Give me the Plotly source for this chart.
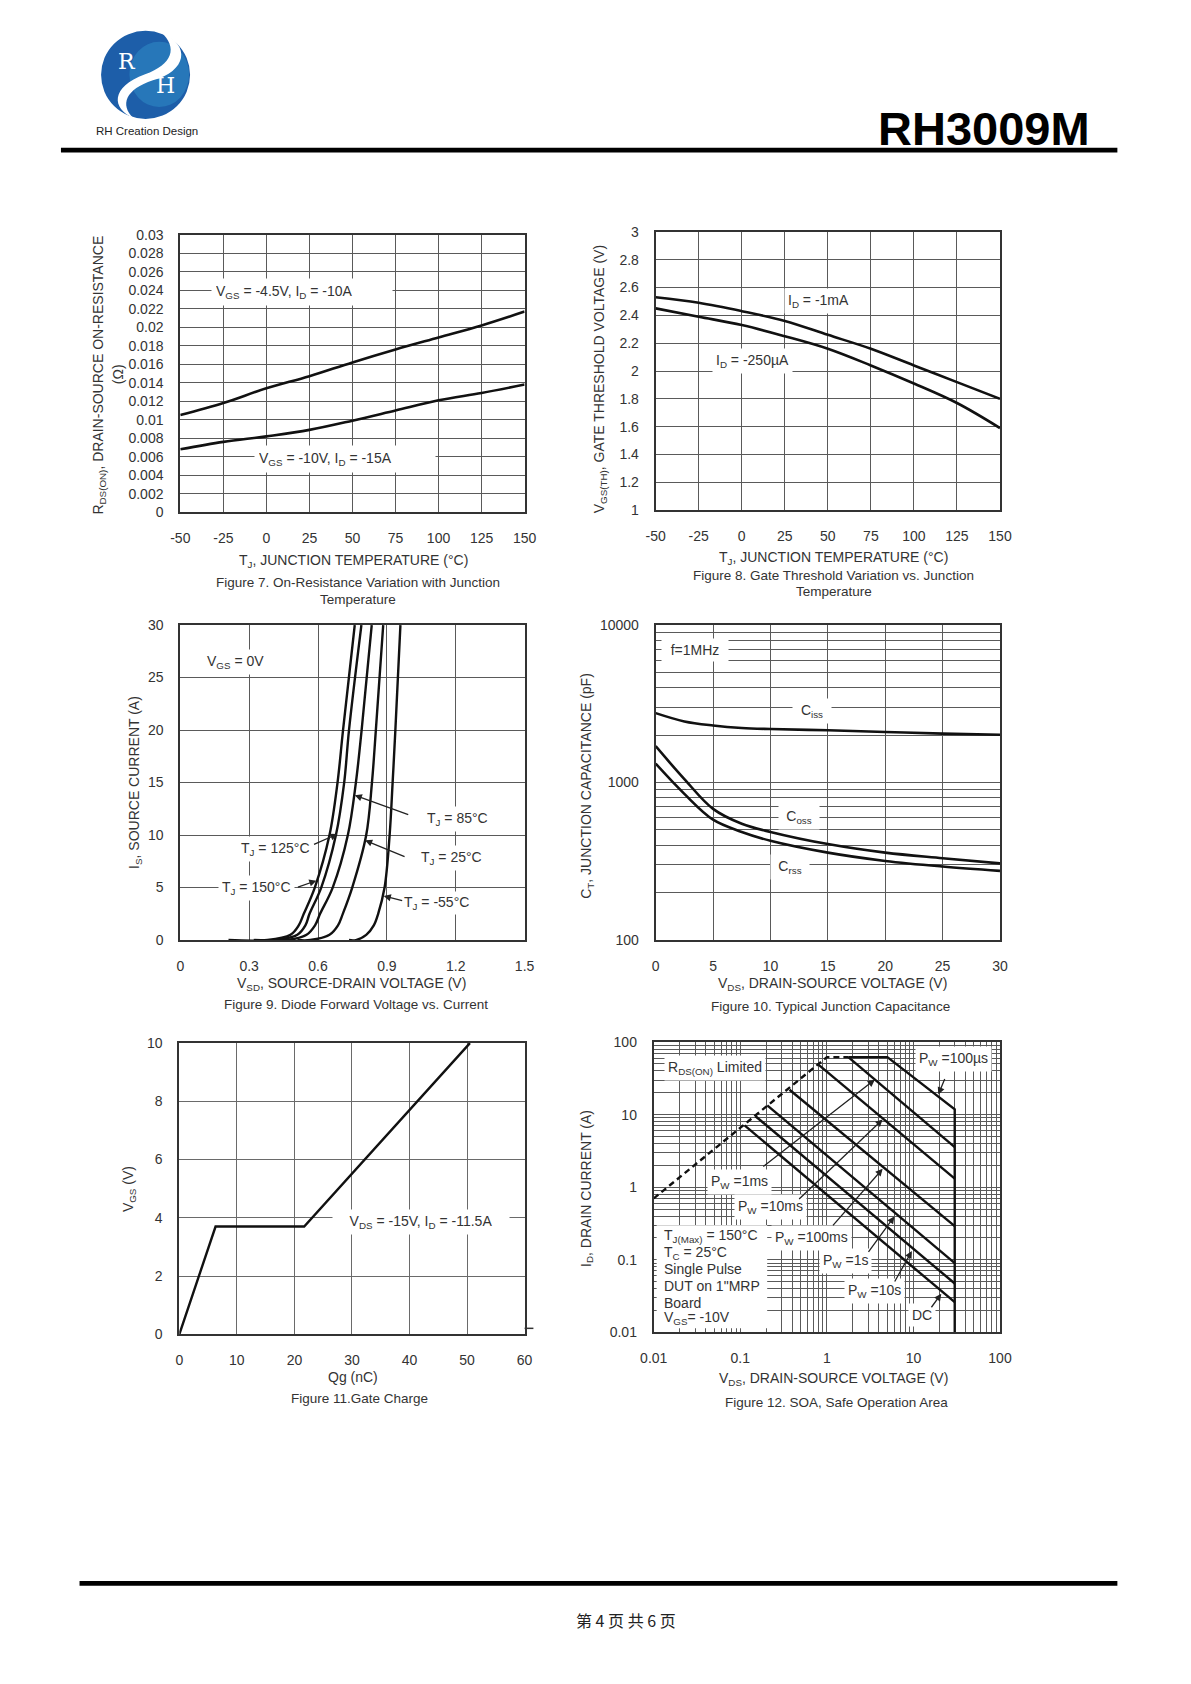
import math
import plotly.graph_objects as go

# ---------------- data ----------------
# Figure 7 : on-resistance vs junction temperature
temp_c = [-50, -25, 0, 25, 50, 75, 100, 125, 150]
rds_vgs45 = [0.0105, 0.0118, 0.0134, 0.0147, 0.0162, 0.0176, 0.0189, 0.0202, 0.0217]
rds_vgs10 = [0.0068, 0.0076, 0.0082, 0.0089, 0.0099, 0.0110, 0.0121, 0.0129, 0.0138]

# Figure 8 : gate threshold vs junction temperature
vth_1ma = [2.53, 2.49, 2.43, 2.36, 2.26, 2.16, 2.04, 1.92, 1.80]
vth_250ua = [2.45, 2.39, 2.33, 2.25, 2.16, 2.04, 1.91, 1.77, 1.59]

# Figure 9 : diode forward voltage vs current
is_amp = [0, 0, 0.5, 1.4, 2.5, 5, 10, 15, 20, 30]
vsd_150 = [0.21, 0.38, 0.48, 0.516, 0.538, 0.586, 0.650, 0.685, 0.709, 0.760]
vsd_125 = [0.32, 0.417, 0.51, 0.545, 0.563, 0.614, 0.678, 0.714, 0.735, 0.789]
vsd_85 = [0.41, 0.466, 0.55, 0.587, 0.609, 0.664, 0.730, 0.765, 0.790, 0.834]
vsd_25 = [0.51, 0.566, 0.65, 0.687, 0.708, 0.749, 0.810, 0.835, 0.852, 0.884]
vsd_m55 = [0.735, 0.765, 0.81, 0.843, 0.862, 0.890, 0.912, 0.925, 0.937, 0.959]

# Figure 10 : junction capacitance
vds_cap = [0, 2.5, 5, 7.5, 10, 15, 20, 25, 30]
ciss = [2760, 2445, 2305, 2222, 2188, 2148, 2096, 2046, 2010]
coss = [1703, 1052, 681, 548, 486, 407, 359, 331, 307]
crss = [1318, 847, 581, 486, 427, 359, 318, 293, 275]

# Figure 11 : gate charge
qg_nc = [0, 6.3, 21.7, 50.5]
vgs_v = [0, 3.7, 3.7, 10]

# Figure 12 : SOA
rds_lim_v = [0.01, 1.0, 1.77]
rds_lim_i = [0.7, 62, 62]
pw100us_v = [1.77, 5.0, 30, 30]
pw100us_i = [62, 62, 11.8, 0.01]
pw1ms_v = [1.77, 30]
pw1ms_i = [62, 3.57]
pw10ms_v = [0.78, 30]
pw10ms_i = [50, 1.31]
pw100ms_v = [0.37, 30]
pw100ms_i = [22, 0.29]
pw1s_v = [0.205, 30]
pw1s_i = [13.4, 0.090]
pw10s_v = [0.15, 30]
pw10s_i = [9.5, 0.047]
dc_v = [0.112, 30]
dc_i = [7.1, 0.026]

# tick labels
fig7_xticks = [-50, -25, 0, 25, 50, 75, 100, 125, 150]
fig7_xtext = ["-50", "-25", "0", "25", "50", "75", "100", "125", "150"]
fig7_yticks = [0, 0.002, 0.004, 0.006, 0.008, 0.01, 0.012, 0.014, 0.016, 0.018, 0.02, 0.022, 0.024, 0.026, 0.028, 0.03]
fig7_ytext = ["0", "0.002", "0.004", "0.006", "0.008", "0.01", "0.012", "0.014", "0.016", "0.018", "0.02", "0.022", "0.024", "0.026", "0.028", "0.03"]
fig8_yticks = [1, 1.2, 1.4, 1.6, 1.8, 2, 2.2, 2.4, 2.6, 2.8, 3]
fig8_ytext = ["1", "1.2", "1.4", "1.6", "1.8", "2", "2.2", "2.4", "2.6", "2.8", "3"]
fig9_xticks = [0, 0.3, 0.6, 0.9, 1.2, 1.5]
fig9_xtext = ["0", "0.3", "0.6", "0.9", "1.2", "1.5"]
fig9_yticks = [0, 5, 10, 15, 20, 25, 30]
fig10_xticks = [0, 5, 10, 15, 20, 25, 30]
fig10_ydecades = [100, 1000, 10000]
fig10_ytext = ["100", "1000", "10000"]
fig11_xticks = [0, 10, 20, 30, 40, 50, 60]
fig11_yticks = [0, 2, 4, 6, 8, 10]
fig12_decades = [0.01, 0.1, 1, 10, 100]
fig12_text = ["0.01", "0.1", "1", "10", "100"]

# ---------------- helpers ----------------
W, H = 1191, 1684
FONT = "Liberation Sans, Arial, sans-serif"
TXT = "#333333"
GRID = "#5a5a5a"
FRAME = "#333333"
CURVE = "#111111"


def fx(p):
    return p / W


def fy(p):
    return 1 - p / H


def log_minor(decades):
    vals = []
    for d in decades[:-1]:
        for m in range(2, 10):
            vals.append(d * m)
    return vals


fig = go.Figure()


def add_line(x, y, ax, width=2.6, dash=None, shape="linear"):
    fig.add_trace(go.Scatter(
        x=x, y=y, xaxis="x" + ax, yaxis="y" + ax, mode="lines",
        line=dict(color=CURVE, width=width, dash=dash, shape=shape),
        hoverinfo="skip", showlegend=False))


add_line(temp_c, rds_vgs45, "", shape="spline")
add_line(temp_c, rds_vgs10, "", shape="spline")
add_line(temp_c, vth_1ma, "2", shape="spline")
add_line(temp_c, vth_250ua, "2", shape="spline")
for v in [vsd_150, vsd_125, vsd_85, vsd_25, vsd_m55]:
    add_line(v, is_amp, "3", width=2.4, shape="spline")
add_line(vds_cap, ciss, "4", shape="spline")
add_line(vds_cap, coss, "4", shape="spline")
add_line(vds_cap, crss, "4", shape="spline")
add_line(qg_nc, vgs_v, "5", width=2.4)
add_line(rds_lim_v, rds_lim_i, "6", width=2.4, dash="6px,4px")
for vv, ii in [(pw100us_v, pw100us_i), (pw1ms_v, pw1ms_i), (pw10ms_v, pw10ms_i),
               (pw100ms_v, pw100ms_i), (pw1s_v, pw1s_i), (pw10s_v, pw10s_i), (dc_v, dc_i)]:
    add_line(vv, ii, "6", width=2.4)

tickfont = dict(family=FONT, size=14, color=TXT)


def xax(l, r, anchor, **kw):
    d = dict(domain=[fx(l), fx(r)], anchor=anchor, showline=True, mirror=True,
             linecolor=FRAME, linewidth=2, showgrid=True, gridcolor=GRID, gridwidth=1,
             zeroline=False, ticks="", tickfont=tickfont, ticklabelstandoff=12,
             fixedrange=True, tickmode="array")
    d.update(kw)
    return d


def yax(t, b, anchor, **kw):
    d = dict(domain=[fy(b), fy(t)], anchor=anchor, showline=True, mirror=True,
             linecolor=FRAME, linewidth=2, showgrid=True, gridcolor=GRID, gridwidth=1,
             zeroline=False, ticks="", tickfont=tickfont, ticklabelstandoff=12,
             fixedrange=True, tickmode="array")
    d.update(kw)
    return d


minor10 = dict(tickmode="array", tickvals=log_minor(fig10_ydecades), showgrid=True,
               gridcolor=GRID, gridwidth=1, ticks="")
minor12 = dict(tickmode="array", tickvals=log_minor(fig12_decades), showgrid=True,
               gridcolor=GRID, gridwidth=1, ticks="")

fig.update_layout(
    width=W, height=H, autosize=False,
    margin=dict(l=0, r=0, t=0, b=0, pad=0),
    paper_bgcolor="white", plot_bgcolor="white", showlegend=False,
    xaxis=xax(170, 522, "y", range=[-50, 150], tickvals=fig7_xticks, ticktext=fig7_xtext),
    yaxis=yax(229, 509, "x", range=[0, 0.03], tickvals=fig7_yticks, ticktext=fig7_ytext),
    xaxis2=xax(656, 1008, "y2", range=[-50, 150], tickvals=fig7_xticks, ticktext=fig7_xtext),
    yaxis2=yax(226, 507, "x2", range=[1, 3], tickvals=fig8_yticks, ticktext=fig8_ytext),
    xaxis3=xax(170, 522, "y3", range=[0, 1.5], tickvals=fig9_xticks, ticktext=fig9_xtext),
    yaxis3=yax(623, 941, "x3", range=[0, 30], tickvals=fig9_yticks),
    xaxis4=xax(656, 1008, "y4", range=[0, 30], tickvals=fig10_xticks),
    yaxis4=yax(623, 941, "x4", type="log", range=[2, 4], tickvals=fig10_ydecades,
               ticktext=fig10_ytext, minor=minor10),
    xaxis5=xax(169, 522, "y5", range=[0, 60], tickvals=fig11_xticks, gridcolor="#6a6a6a"),
    yaxis5=yax(1045, 1339, "x5", range=[0, 10], tickvals=fig11_yticks, gridcolor="#6a6a6a"),
    xaxis6=xax(654, 1008, "y6", type="log", range=[-2, 2], tickvals=fig12_decades,
               ticktext=fig12_text, minor=minor12),
    yaxis6=yax(1044, 1337, "x6", type="log", range=[-2, 2], tickvals=fig12_decades,
               ticktext=fig12_text, minor=minor12),
)

ann = []
shapes = []


def text(t, x, y, size=14, xanchor="center", angle=0, color=TXT, bg=None, width=None,
         align="center", family=FONT, pad=1, yanchor="middle"):
    a = dict(text=t, x=fx(x), y=fy(y), xref="paper", yref="paper", showarrow=False,
             xanchor=xanchor, yanchor=yanchor, textangle=angle, align=align,
             font=dict(family=family, size=size, color=color), borderpad=pad)
    if bg:
        a["bgcolor"] = bg
    if width:
        a["width"] = width
    ann.append(a)


def arrow(ax_id, x, y, dx, dy):
    ann.append(dict(text="", x=x, y=y, xref="x" + ax_id, yref="y" + ax_id,
                    showarrow=True, ax=dx, ay=dy, axref="pixel", ayref="pixel",
                    arrowhead=2, arrowsize=1.1, arrowwidth=1.3, arrowcolor="#222222",
                    standoff=0, startstandoff=0))


# ---- header / footer ----
shapes.append(dict(type="rect", xref="paper", yref="paper", x0=fx(48), x1=fx(1128),
                   y0=fy(146), y1=fy(141), fillcolor="black", line=dict(width=0)))
shapes.append(dict(type="rect", xref="paper", yref="paper", x0=fx(67), x1=fx(1128),
                   y0=fy(1593), y1=fy(1588), fillcolor="black", line=dict(width=0)))
# logo
shapes.append(dict(type="circle", xref="paper", yref="paper", x0=fx(89), x1=fx(180),
                   y0=fy(112), y1=fy(23), fillcolor="#1d5ea9", line=dict(width=0)))
shapes.append(dict(type="circle", xref="paper", yref="paper", x0=fx(118), x1=fx(179),
                   y0=fy(100), y1=fy(34), fillcolor="#2f8cc6", opacity=0.55, line=dict(width=0)))


def ppath(pts):
    out = []
    for cmd, coords in pts:
        s = cmd
        for (a, b) in coords:
            s += " %.5f,%.5f" % (fx(a), fy(b))
        out.append(s)
    return " ".join(out) + " Z"


swoosh = ppath([("M", [(150, 24)]),
                ("C", [(182, 38), (176, 64), (142, 73)]),
                ("C", [(114, 82), (108, 98), (122, 111)]),
                ("C", [(100, 102), (98, 80), (134, 67)]),
                ("C", [(162, 57), (168, 40), (150, 24)])])
shapes.append(dict(type="path", xref="paper", yref="paper", path=swoosh,
                   fillcolor="white", line=dict(width=0)))
text("R", 116, 54, size=22, color="white", family="DejaVu Serif, serif")
text("H", 155, 78, size=22, color="white", family="DejaVu Serif, serif")
text("RH Creation Design", 136, 124, size=11.5, color="#222222")
text("<b>RH3009M</b>", 1102, 122, size=47, xanchor="right", color="black")
text("第 4 页 共 6 页", 626, 1627, size=16, color="#222222",
     family="Noto Sans CJK SC, sans-serif")

# ---- Figure 7 ----
text("T<sub>J</sub>, JUNCTION TEMPERATURE (°C)", 347, 558)
text("Figure 7. On-Resistance Variation with Junction", 352, 580, size=13.5)
text("Temperature", 352, 597, size=13.5)
text("R<sub>DS(ON)</sub>, DRAIN-SOURCE ON-RESISTANCE", 87, 371, angle=-90)
text("(Ω)", 107, 370, angle=-90)
text("V<sub>GS</sub> = -4.5V, I<sub>D</sub> = -10A", 294, 287, bg="white", width=172,
     align="left", pad=4)
text("V<sub>GS</sub> = -10V, I<sub>D</sub> = -15A", 338, 455, bg="white", width=172,
     align="left", pad=4)

# ---- Figure 8 ----
text("T<sub>J</sub>, JUNCTION TEMPERATURE (°C)", 838, 555)
text("Figure 8. Gate Threshold Variation vs. Junction", 838, 573, size=13.5)
text("Temperature", 838, 589, size=13.5)
text("V<sub>GS(TH)</sub>, GATE THRESHOLD VOLTAGE (V)", 600, 375, angle=-90)
text("I<sub>D</sub> = -1mA", 822, 296, bg="white", pad=3)
text("I<sub>D</sub> = -250µA", 755, 356, bg="white", pad=3)

# ---- Figure 9 ----
text("V<sub>SD</sub>, SOURCE-DRAIN VOLTAGE (V)", 345, 985)
text("Figure 9. Diode Forward Voltage vs. Current", 350, 1006, size=13.5)
text("I<sub>S</sub>, SOURCE CURRENT (A)", 123, 782, angle=-90)
text("V<sub>GS</sub> = 0V", 193, 660, xanchor="left", bg="white", pad=3)
text("T<sub>J</sub> = 85°C", 453, 819, bg="white", pad=3)
text("T<sub>J</sub> = 125°C", 267, 849, bg="white", pad=3)
text("T<sub>J</sub> = 25°C", 447, 858, bg="white", pad=3)
text("T<sub>J</sub> = 150°C", 248, 888, bg="white", pad=3)
text("T<sub>J</sub> = -55°C", 432, 904, bg="white", pad=2)
arrow("3", 0.760, 13.8, 55, 20)
arrow("3", 0.685, 10.1, -25, 11)
arrow("3", 0.805, 9.5, 41, 17)
arrow("3", 0.593, 5.66, -20, 7)
arrow("3", 0.886, 4.2, 20, 5)

# ---- Figure 10 ----
text("V<sub>DS</sub>, DRAIN-SOURCE VOLTAGE (V)", 837, 985)
text("Figure 10. Typical Junction Capacitance", 835, 1008, size=13.5)
text("C<sub>T</sub>, JUNCTION CAPACITANCE (pF)", 585, 785, angle=-90)
text("f=1MHz", 696, 648, bg="white", width=60, pad=3)
text("C<sub>iss</sub>", 816, 710, bg="white", width=32, pad=3)
text("C<sub>oss</sub>", 803, 817, bg="white", width=34, pad=3)
text("C<sub>rss</sub>", 793, 867, bg="white", width=32, pad=3)

# ---- Figure 11 ----
text("Qg (nC)", 347, 1382)
text("Figure 11.Gate Charge", 353, 1404, size=13.5)
text("V<sub>GS</sub> (V)", 117, 1192, angle=-90)
text("V<sub>DS</sub> = -15V, I<sub>D</sub> = -11.5A", 416, 1226, bg="white", width=170, pad=3)
shapes.append(dict(type="line", xref="paper", yref="paper", x0=fx(522), x1=fx(531),
                   y0=fy(1333), y1=fy(1333), line=dict(color="#333333", width=1.5)))

# ---- Figure 12 ----
text("V<sub>DS</sub>, DRAIN-SOURCE VOLTAGE (V)", 838, 1384)
text("Figure 12. SOA, Safe Operation Area", 841, 1408, size=13.5)
text("I<sub>D</sub>, DRAIN CURRENT (A)", 585, 1192, angle=-90)
shapes.append(dict(type="rect", xref="paper", yref="paper", x0=fx(657), x1=fx(770),
                   y0=fy(1333), y1=fy(1229), fillcolor="white", line=dict(width=0),
                   layer="above"))
text("R<sub>DS(ON)</sub> Limited", 665, 1070, xanchor="left", bg="white", pad=3)
text("P<sub>W</sub> =100µs", 960, 1061, bg="white", pad=3)
text("P<sub>W</sub> =1ms", 742, 1185, bg="white", pad=3)
text("P<sub>W</sub> =10ms", 773, 1211, bg="white", pad=3)
text("P<sub>W</sub> =100ms", 815, 1242, bg="white", pad=3)
text("P<sub>W</sub> =1s", 850, 1265, bg="white", pad=3)
text("P<sub>W</sub> =10s", 880, 1295, bg="white", pad=3)
text("DC", 928, 1320, bg="white", pad=3)
cond_lines = ["T<sub>J(Max)</sub> = 150°C", "T<sub>C</sub> = 25°C", "Single Pulse",
              "DUT on 1\"MRP", "Board", "V<sub>GS</sub>= -10V"]
cond_y = [1240, 1257, 1273, 1290, 1307, 1323]
for t, yy in zip(cond_lines, cond_y):
    text(t, 662, yy, xanchor="left")

L = math.log10
arrow("6", L(19.4), L(18.9), 7, -17)
arrow("6", L(3.58), L(30.3), -113, 88)
arrow("6", L(4.41), L(8.6), -85, 81)
arrow("6", L(4.41), L(1.79), -51, 58)
arrow("6", L(6.03), L(0.395), -27, 37)
arrow("6", L(9.6), L(0.132), -18, 32)
arrow("6", L(21), L(0.034), -11, 15)

fig.update_layout(annotations=ann, shapes=shapes)

# remove the default 8px page margin synchronously (and again once the plot is drawn)
reset_margin = ("document.documentElement.style.margin='0';"
                "document.body.style.margin='0';document.body.style.padding='0';")
fig.write_html("out.html", include_plotlyjs=True, config={"displayModeBar": False},
               post_script="});" + reset_margin + "(function(){" + reset_margin)
